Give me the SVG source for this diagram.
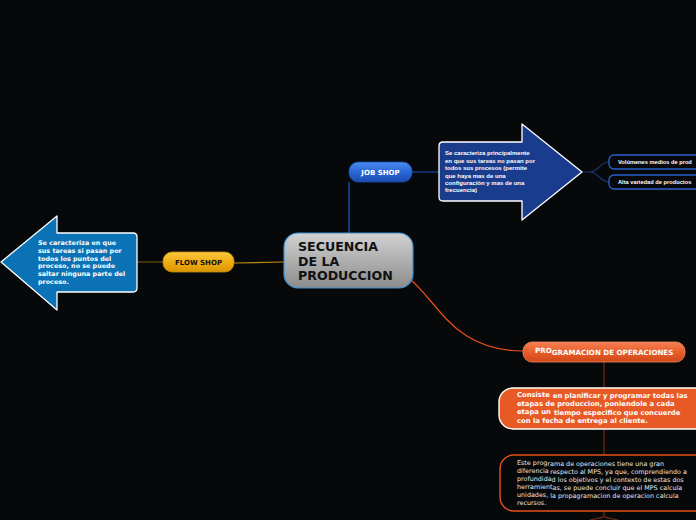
<svg xmlns="http://www.w3.org/2000/svg" width="696" height="520" viewBox="0 0 696 520">
<defs>
<linearGradient id="gCenter" x1="0" y1="0" x2="0" y2="1"><stop offset="0" stop-color="#d2d2d2"/><stop offset="1" stop-color="#8c8c8c"/></linearGradient>
<linearGradient id="gBlue" x1="0" y1="0" x2="0" y2="1"><stop offset="0" stop-color="#4a8cf0"/><stop offset="0.5" stop-color="#2a66d6"/><stop offset="1" stop-color="#1a4cb0"/></linearGradient>
<linearGradient id="gYellow" x1="0" y1="0" x2="0" y2="1"><stop offset="0" stop-color="#fcc840"/><stop offset="0.5" stop-color="#f0ad14"/><stop offset="1" stop-color="#d89500"/></linearGradient>
<linearGradient id="gOrange" x1="0" y1="0" x2="0" y2="1"><stop offset="0" stop-color="#f58055"/><stop offset="0.5" stop-color="#e85e2a"/><stop offset="1" stop-color="#d04818"/></linearGradient>
</defs>
<style>
.bold{font-family:"DejaVu Sans",Verdana,sans-serif;font-weight:bold}
.reg{font-family:"DejaVu Sans",Verdana,sans-serif}
.arial{font-family:"Liberation Sans",Arial,sans-serif;font-weight:bold}
.conn{fill:none;stroke-width:1.2}
</style>
<rect width="696" height="520" fill="#06080a"/>
<g id="connectors">
<path class="conn" d="M349,233 L349,182" stroke="#1f5bc8"/>
<path class="conn" d="M412,172 L439,172" stroke="#1a45a0"/>
<path class="conn" d="M582,172 L590,172 C598,172 600,162 609,162 M590,172 C598,172 600,182 609,182" stroke="#1a3570"/>
<path class="conn" d="M284,262 L234,263" stroke="#c08a10"/>
<path class="conn" d="M163,262 L137,262" stroke="#6b5010"/>
<path class="conn" d="M411,280 C440,305 455,351 523,351" stroke="#e8501a"/>
<path class="conn" d="M604,362 L604,388 M604,429 L604,455 M604,511 L604,516 C604,518 598,518 590,520 M604,516 C604,518 610,518 618,520" stroke="#7a2a10"/>
</g>
<g id="central">
<rect x="284" y="233" width="129" height="55" rx="14" fill="url(#gCenter)" stroke="#3a8fd0" stroke-width="1.2"/>
<text class="bold" font-size="12.6" fill="#111"><tspan x="298" y="251">SECUENCIA</tspan><tspan x="298" y="265.5">DE LA</tspan><tspan x="298" y="280">PRODUCCION</tspan></text>
</g>
<g id="jobshop">
<rect x="349" y="162" width="63" height="20" rx="9" fill="url(#gBlue)" stroke="#1a4cb0" stroke-width="0.8"/>
<text class="bold" font-size="7" fill="#fff" x="380.5" y="175" text-anchor="middle">JOB SHOP</text>
</g>
<g id="jobshop-desc">
<path d="M522,124 L582,172 L522,220 L522,201 L443,201 Q439,201 439,197 L439,146 Q439,142 443,142 L522,142 Z" fill="#1a3c8c" stroke="#fff" stroke-width="1.3" stroke-linejoin="round"/>
<text class="arial" font-size="6" fill="#fff"><tspan x="445" y="155">Se caracteriza principalmente</tspan><tspan x="445" y="162.5">en que sus tareas no pasan por</tspan><tspan x="445" y="170">todos sus procesos (permite</tspan><tspan x="445" y="177.5">que haya mas de una</tspan><tspan x="445" y="185">configuración y mas de una</tspan><tspan x="445" y="192.3">frecuencia)</tspan></text>
</g>
<g id="volumenes">
<rect x="609" y="155" width="100" height="14" rx="5" fill="#05070a" stroke="#2b62d0" stroke-width="1.3"/>
<text class="arial" font-size="5.7" fill="#fff" x="618" y="164">Volúmenes medios de prod</text>
</g>
<g id="variedad">
<rect x="609" y="175" width="100" height="14" rx="5" fill="#05070a" stroke="#2b62d0" stroke-width="1.3"/>
<text class="arial" font-size="5.7" fill="#fff" x="618" y="184">Alta variedad de productos</text>
</g>
<g id="flowshop">
<rect x="163" y="252" width="71" height="20" rx="9" fill="url(#gYellow)" stroke="#c08a10" stroke-width="0.8"/>
<text class="bold" font-size="7" fill="#111" x="198.5" y="265" text-anchor="middle">FLOW SHOP</text>
</g>
<g id="flowshop-desc">
<path d="M57,216 L57,233 L133,233 Q137,233 137,237 L137,288 Q137,292 133,292 L57,292 L57,310 L1,262 Z" fill="#0b72b5" stroke="#fff" stroke-width="1.3" stroke-linejoin="round"/>
<text class="bold" font-size="6.4" fill="#fff"><tspan x="38" y="245">Se caracteriza en que</tspan><tspan x="38" y="252.8">sus tareas si pasan por</tspan><tspan x="38" y="260.6">todos los puntos del</tspan><tspan x="38" y="268.4">proceso, no se puede</tspan><tspan x="38" y="276.2">saltar ninguna parte del</tspan><tspan x="38" y="284">proceso.</tspan></text>
</g>
<g id="programacion">
<rect x="523" y="342" width="162" height="20" rx="9" fill="url(#gOrange)" stroke="#f08a60" stroke-width="0.8"/>
<text class="bold" font-size="7.1" fill="#fff" x="535" y="352.5">PRO<tspan dy="2">GRAMACION DE OPERACIONES</tspan></text>
</g>
<g id="consiste">
<rect x="499" y="388" width="215" height="41" rx="14" fill="#e85a25" stroke="#fff" stroke-width="1.4"/>
<text class="bold" font-size="6.8" fill="#fff"><tspan x="517" y="396.7">Consiste</tspan><tspan dx="3" dy="1.6">en planificar y programar todas las</tspan><tspan x="517" y="406">etapas de produccion, poniendole a cada</tspan><tspan x="517" y="413.5">etapa un</tspan><tspan dx="3" dy="1">tiempo especifico que concuerde</tspan><tspan x="517" y="422.7">con la fecha de entrega al cliente.</tspan></text>
</g>
<g id="este-programa">
<rect x="500" y="455" width="215" height="56" rx="14" fill="#07080a" stroke="#e8501a" stroke-width="1.4"/>
<text class="reg" font-size="6.4" fill="#e6e6e6"><tspan x="517" y="465">Este prog</tspan><tspan dy="1.2">rama de operaciones tiene una gran</tspan><tspan x="517" y="473">diferencia</tspan><tspan dx="1.5" dy="1.2">respecto al MPS, ya que, comprendiendo a</tspan><tspan x="517" y="481">profundida</tspan><tspan dy="1.2">d los objetivos y el contexto de estas dos</tspan><tspan x="517" y="488.5">herramient</tspan><tspan dy="1.2">as, se puede concluir que el MPS calcula</tspan><tspan x="517" y="496.5">unidades,</tspan><tspan dx="2" dy="1.2">la propagramacion de operacion calcula</tspan><tspan x="517" y="504.5">recursos.</tspan></text>
</g>
</svg>
